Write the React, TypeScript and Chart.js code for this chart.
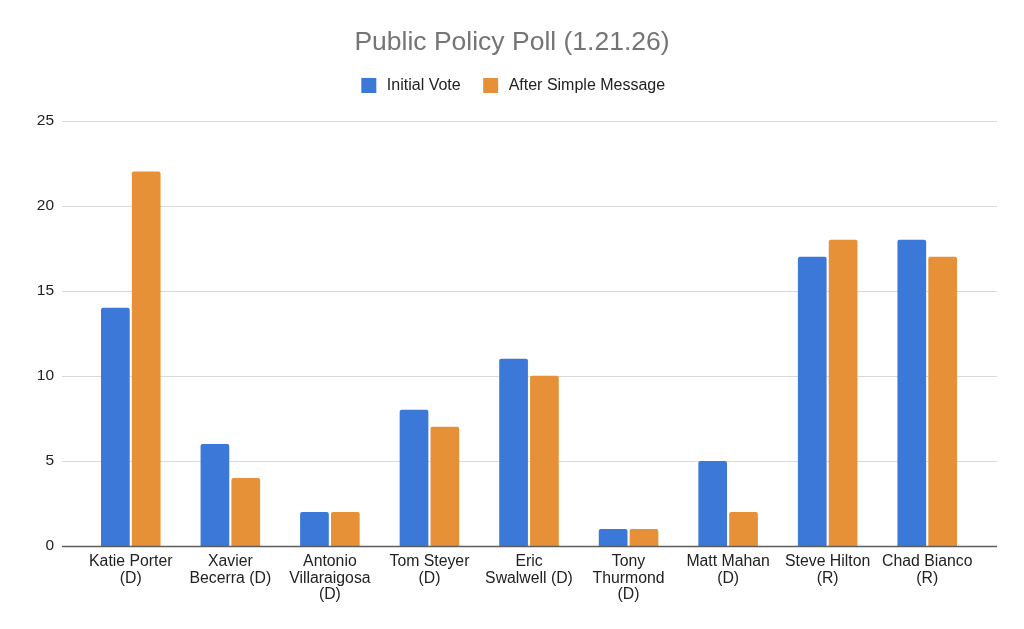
import React, { useEffect, useRef } from "react";
import { Chart, registerables } from "chart.js";

Chart.register(...registerables);

const categories: string[][] = [
  ["Katie Porter", "(D)"],
  ["Xavier", "Becerra (D)"],
  ["Antonio", "Villaraigosa", "(D)"],
  ["Tom Steyer", "(D)"],
  ["Eric", "Swalwell (D)"],
  ["Tony", "Thurmond", "(D)"],
  ["Matt Mahan", "(D)"],
  ["Steve Hilton", "(R)"],
  ["Chad Bianco", "(R)"],
];

const initialVote: number[] = [14, 6, 2, 8, 11, 1, 5, 17, 18];
const afterSimpleMessage: number[] = [22, 4, 2, 7, 10, 1, 2, 18, 17];

const seriesNames: string[] = ["Initial Vote", "After Simple Message"];
const yTicks: number[] = [0, 5, 10, 15, 20, 25];

const FONT = "'Liberation Sans', Arial, Helvetica, sans-serif";

const extGridPlugin = {
  id: "extGrid",
  beforeDatasetsDraw(chart: any) {
    const { ctx, chartArea, scales } = chart;
    const y = scales.y;
    ctx.save();
    ctx.strokeStyle = "#d9d9d9";
    ctx.lineWidth = 1;
    y.ticks.forEach((t: any) => {
      if (t.value === 0) return;
      const py = Math.round(y.getPixelForValue(t.value)) + 0.5;
      ctx.beginPath();
      ctx.moveTo(chartArea.left - 19, py);
      ctx.lineTo(chartArea.right + 20, py);
      ctx.stroke();
    });
    ctx.restore();
  },
  afterDatasetsDraw(chart: any) {
    const { ctx, chartArea, scales } = chart;
    const y = scales.y;
    const py = Math.round(y.getPixelForValue(0)) + 0.5;
    ctx.save();
    ctx.strokeStyle = "#5e5e5e";
    ctx.lineWidth = 1.5;
    ctx.beginPath();
    ctx.moveTo(chartArea.left - 19, py);
    ctx.lineTo(chartArea.right + 20, py);
    ctx.stroke();
    ctx.restore();
  },
};

export default function App() {
  const canvasRef = useRef<HTMLCanvasElement | null>(null);

  useEffect(() => {
    if (!canvasRef.current) return;
    const chart = new Chart(canvasRef.current, {
      type: "bar",
      data: {
        labels: categories,
        datasets: [
          {
            label: seriesNames[0],
            data: initialVote,
            backgroundColor: "#3c78d8",
            borderWidth: 0,
            borderRadius: 2,
            xAxisID: "x",
            yAxisID: "y",
            barPercentage: 0.93,
            categoryPercentage: 0.62,
          },
          {
            label: seriesNames[1],
            data: afterSimpleMessage,
            backgroundColor: "#e69138",
            borderWidth: 0,
            borderRadius: 2,
            xAxisID: "x",
            yAxisID: "y",
            barPercentage: 0.93,
            categoryPercentage: 0.62,
          },
        ],
      },
      options: {
        responsive: false,
        animation: false,
        layout: { padding: { left: 0, right: 0, top: 0, bottom: 0 } },
        plugins: {
          title: {
            display: true,
            text: "Public Policy Poll (1.21.26)",
            color: "#757575",
            font: { family: FONT, size: 26.5, weight: "normal", lineHeight: 1 },
            padding: { top: 29, bottom: 0 },
          },
          legend: {
            display: true,
            position: "top",
            labels: {
              color: "#222222",
              font: { family: FONT, size: 16 },
              boxWidth: 20,
              boxHeight: 20,
              padding: 20,
              generateLabels(chart: any) {
                const items = Chart.defaults.plugins.legend.labels.generateLabels(chart);
                return items.map((it: any) => ({
                  ...it,
                  strokeStyle: "#ffffff",
                  lineWidth: 5,
                  borderRadius: 0,
                }));
              },
            },
          },
          tooltip: { enabled: false },
        },
        scales: {
          x: {
            type: "category",
            position: "bottom",
            grid: { display: false, drawTicks: false },
            border: { display: false },
            ticks: {
              color: "#222222",
              font: { family: FONT, size: 15.8, lineHeight: 1.02 },
              padding: 8,
              maxRotation: 0,
              autoSkip: false,
            },
            afterFit(s: any) {
              s.height = 83;
            },
          },
          x2: {
            type: "category",
            position: "top",
            labels: categories.map((c) => c.join(" ")),
            grid: { display: false, drawTicks: false },
            border: { display: false },
            ticks: { display: false },
            afterFit(s: any) {
              s.height = 15;
            },
          },
          y: {
            type: "linear",
            position: "left",
            min: 0,
            max: 25,
            afterBuildTicks(s: any) {
              s.ticks = yTicks.map((v) => ({ value: v }));
            },
            grid: { display: false, drawTicks: false },
            border: { display: false },
            ticks: {
              color: "#222222",
              font: { family: FONT, size: 15.5 },
              padding: 27,
            },
            afterFit(s: any) {
              s.width = 81;
            },
          },
          y2: {
            type: "linear",
            position: "right",
            min: 0,
            max: 25,
            grid: { display: false, drawTicks: false },
            border: { display: false },
            ticks: { display: false },
            afterFit(s: any) {
              s.width = 47;
            },
          },
        },
      },
      plugins: [extGridPlugin],
    });
    return () => chart.destroy();
  }, []);

  return (
    <div style={{ position: "absolute", left: 0, top: 0, width: 1024, height: 629, background: "#ffffff" }}>
      <canvas ref={canvasRef} width={1024} height={629} />
    </div>
  );
}
